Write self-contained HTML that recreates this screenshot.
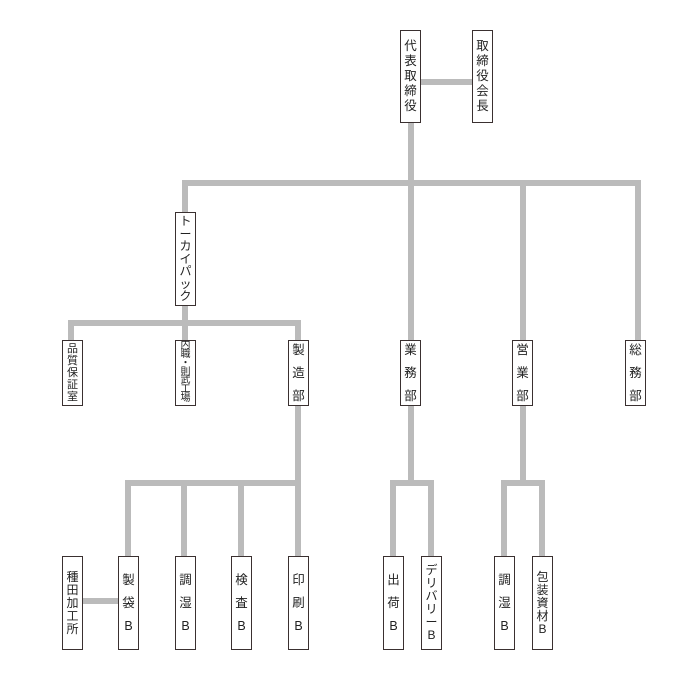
<!DOCTYPE html>
<html><head><meta charset="utf-8"><style>
html,body{margin:0;padding:0;background:#fff;}
#c{position:relative;width:700px;height:700px;overflow:hidden;font-family:"Liberation Sans","Noto Sans CJK JP",sans-serif;}
.b{position:absolute;box-sizing:border-box;border:1.5px solid #3a3030;background:#fff;width:21px;display:flex;flex-direction:column;align-items:center;justify-content:center;font-size:12.5px;line-height:15px;color:#222;overflow:hidden;}
.s span{margin:4px 0;}
.t{text-align:center;}
</style></head><body><div id="c">
<svg width="700" height="700" style="position:absolute;left:0;top:0">
<g stroke="#bbbbbb" stroke-width="6" fill="none" stroke-linecap="butt">
<line x1="421" y1="82" x2="472" y2="82"/>
<line x1="411" y1="123" x2="411" y2="340"/>
<polyline points="185,212 185,183 638,183 638,340"/>
<line x1="523" y1="183" x2="523" y2="340"/>
<line x1="185" y1="305" x2="185" y2="340"/>
<polyline points="71,340 71,323 298,323 298,340"/>
<polyline points="298,405 298,556"/>
<polyline points="128,556 128,483 298,483"/>
<line x1="184" y1="483" x2="184" y2="556"/>
<line x1="241" y1="483" x2="241" y2="556"/>
<line x1="411" y1="405" x2="411" y2="483"/>
<polyline points="393,556 393,483 431,483 431,556"/>
<line x1="523" y1="405" x2="523" y2="483"/>
<polyline points="504,556 504,483 542,483 542,556"/>
<line x1="82" y1="601" x2="118" y2="601"/>
</g></svg>
<div class="b" style="left:400px;top:30px;height:93px"><div class="t">代<br>表<br>取<br>締<br>役</div></div>
<div class="b" style="left:472px;top:30px;height:93px"><div class="t">取<br>締<br>役<br>会<br>長</div></div>
<div class="b" style="left:175px;top:212px;height:94px;font-size:12px;line-height:12.5px"><div class="t">ト<br>ー<br>カ<br>イ<br>パ<br>ッ<br>ク</div></div>
<div class="b" style="left:62px;top:340px;height:66px;font-size:11px;line-height:12px"><div class="t">品<br>質<br>保<br>証<br>室</div></div>
<div class="b" style="left:175px;top:340px;height:66px;font-size:10px;line-height:8.8px"><div class="t">内<br>職<br>・<br>則<br>武<br>工<br>場</div></div>
<div class="b s" style="left:288px;top:340px;height:66px"><span>製</span><span>造</span><span>部</span></div>
<div class="b s" style="left:400px;top:340px;height:66px"><span>業</span><span>務</span><span>部</span></div>
<div class="b s" style="left:512px;top:340px;height:66px"><span>営</span><span>業</span><span>部</span></div>
<div class="b s" style="left:625px;top:340px;height:66px"><span>総</span><span>務</span><span>部</span></div>
<div class="b" style="left:62px;top:556px;height:94px;font-size:12px;line-height:13px"><div class="t">種<br>田<br>加<br>工<br>所</div></div>
<div class="b s" style="left:118px;top:556px;height:94px"><span>製</span><span>袋</span><span>B</span></div>
<div class="b s" style="left:175px;top:556px;height:94px"><span>調</span><span>湿</span><span>B</span></div>
<div class="b s" style="left:231px;top:556px;height:94px"><span>検</span><span>査</span><span>B</span></div>
<div class="b s" style="left:288px;top:556px;height:94px"><span>印</span><span>刷</span><span>B</span></div>
<div class="b s" style="left:383px;top:556px;height:94px"><span>出</span><span>荷</span><span>B</span></div>
<div class="b" style="left:421px;top:556px;height:94px;font-size:12px;line-height:13px"><div class="t">デ<br>リ<br>バ<br>リ<br>ー<br>B</div></div>
<div class="b s" style="left:494px;top:556px;height:94px"><span>調</span><span>湿</span><span>B</span></div>
<div class="b" style="left:532px;top:556px;height:94px;font-size:12px;line-height:13px"><div class="t">包<br>装<br>資<br>材<br>B</div></div>
</div></body></html>
